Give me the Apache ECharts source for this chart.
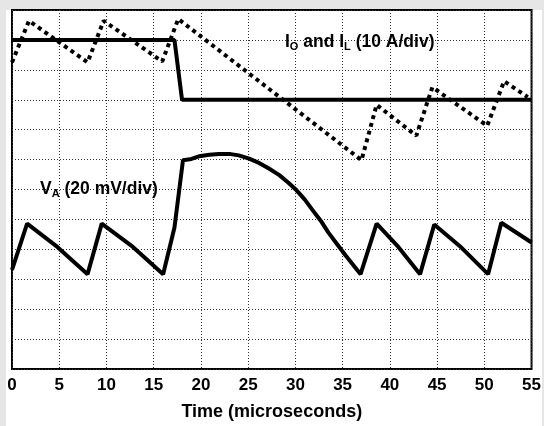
<!DOCTYPE html>
<html>
<head>
<meta charset="utf-8">
<script src="https://cdn.jsdelivr.net/npm/echarts@6/dist/echarts.min.js"></script>
<style>
html,body{margin:0;padding:0;background:#e6e6e6;}
#chart{width:544px;height:426px;}
</style>
</head>
<body>
<div id="chart"></div>
<script>
// time axis ticks (microseconds)
var xTicks = [0, 5, 10, 15, 20, 25, 30, 35, 40, 45, 50, 55];

// traces, y in screen divisions (0 = bottom, 12 = top)
var iOut = [[0, 11], [17.2, 11], [18.0, 9], [55, 9]];

var iL = [
    [0, 10.25], [1.8, 11.64], [8.0, 10.25], [9.7, 11.64], [15.9, 10.28],
    [17.6, 11.7], [37.0, 6.98], [38.6, 8.83], [42.8, 7.8], [44.5, 9.42],
    [50.3, 8.13], [52.1, 9.62], [54.6, 9.09]
];

var vA = [
    [0, 3.31], [1.6, 4.86], [4.8, 4.08], [8.0, 3.17], [9.5, 4.86], [12.8, 4.08], [16.0, 3.17],
    [17.2, 4.73], [18.1, 6.98], [19.0, 7.02], [19.8, 7.11], [20.9, 7.16], [21.9, 7.19],
    [23.0, 7.19], [24.0, 7.14], [25.1, 7.03], [26.2, 6.88], [27.2, 6.7], [28.3, 6.48],
    [29.2, 6.24], [30.1, 5.98], [31.0, 5.66], [31.8, 5.32], [32.7, 4.95],
    [33.5, 4.56], [34.4, 4.18], [35.3, 3.8], [36.9, 3.17], [38.6, 4.86], [40.9, 4.08], [43.2, 3.17],
    [44.7, 4.83], [47.6, 4.05], [50.4, 3.17], [51.8, 4.89], [55, 4.23]
];

var font = '"Liberation Sans", Arial, sans-serif';

var myChart = echarts.init(document.getElementById('chart'));

var dots = {type: [1, 2], color: '#333', width: 1};

option = {
    backgroundColor: '#e6e6e6',
    animation: false,
    graphic: [
        {
            type: 'rect', z: -10, silent: true,
            shape: {x: 6, y: 10, width: 536, height: 416},
            style: {fill: '#fff'}
        },
        {
            type: 'text', left: 285, top: 33, z: 10,
            style: {
                text: '{b|I}{s|O}{b| and I}{s|L}{b| (10 A/div)}',
                rich: {
                    b: {fontFamily: font, fontWeight: 'bold', fontSize: 17.5, fill: '#000'},
                    s: {fontFamily: font, fontWeight: 'bold', fontSize: 11, fill: '#000', padding: [10, 0, 0, 0]}
                }
            }
        },
        {
            type: 'text', left: 40, top: 180, z: 10,
            style: {
                text: '{b|V}{s|A}{b| (20 mV/div)}',
                rich: {
                    b: {fontFamily: font, fontWeight: 'bold', fontSize: 17.5, fill: '#000'},
                    s: {fontFamily: font, fontWeight: 'bold', fontSize: 11, fill: '#000', padding: [10, 0, 0, 0]}
                }
            }
        }
    ],
    grid: {
        left: 12, right: 10, top: 10, bottom: 53,
        show: true, borderColor: '#000', borderWidth: 2, backgroundColor: 'transparent'
    },
    xAxis: {
        type: 'value',
        min: 0, max: 55, interval: 5,
        name: 'Time (microseconds)',
        nameLocation: 'middle',
        nameGap: 34,
        nameTextStyle: {fontFamily: font, fontWeight: 'bold', fontSize: 18, color: '#000'},
        axisLine: {show: false},
        axisTick: {show: false},
        axisLabel: {
            margin: 8, fontFamily: font, fontWeight: 'bold', fontSize: 17, color: '#000',
            formatter: function (v) { return xTicks.indexOf(v) >= 0 ? String(v) : ''; }
        },
        splitLine: {show: true, lineStyle: dots}
    },
    yAxis: {
        type: 'value',
        min: 0, max: 12, interval: 1,
        axisLine: {show: false},
        axisTick: {show: false},
        axisLabel: {show: false},
        splitLine: {show: true, lineStyle: dots}
    },
    series: [
        {
            name: 'IL', type: 'line', data: iL, symbol: 'none', z: 3,
            lineStyle: {color: '#000', width: 4, type: [4, 4], cap: 'butt'}
        },
        {
            name: 'IO', type: 'line', data: iOut, symbol: 'none', z: 4,
            lineStyle: {color: '#000', width: 4}
        },
        {
            name: 'VA', type: 'line', data: vA, symbol: 'none', z: 4,
            lineStyle: {color: '#000', width: 4}
        }
    ]
};

myChart.setOption(option);
</script>
</body>
</html>
